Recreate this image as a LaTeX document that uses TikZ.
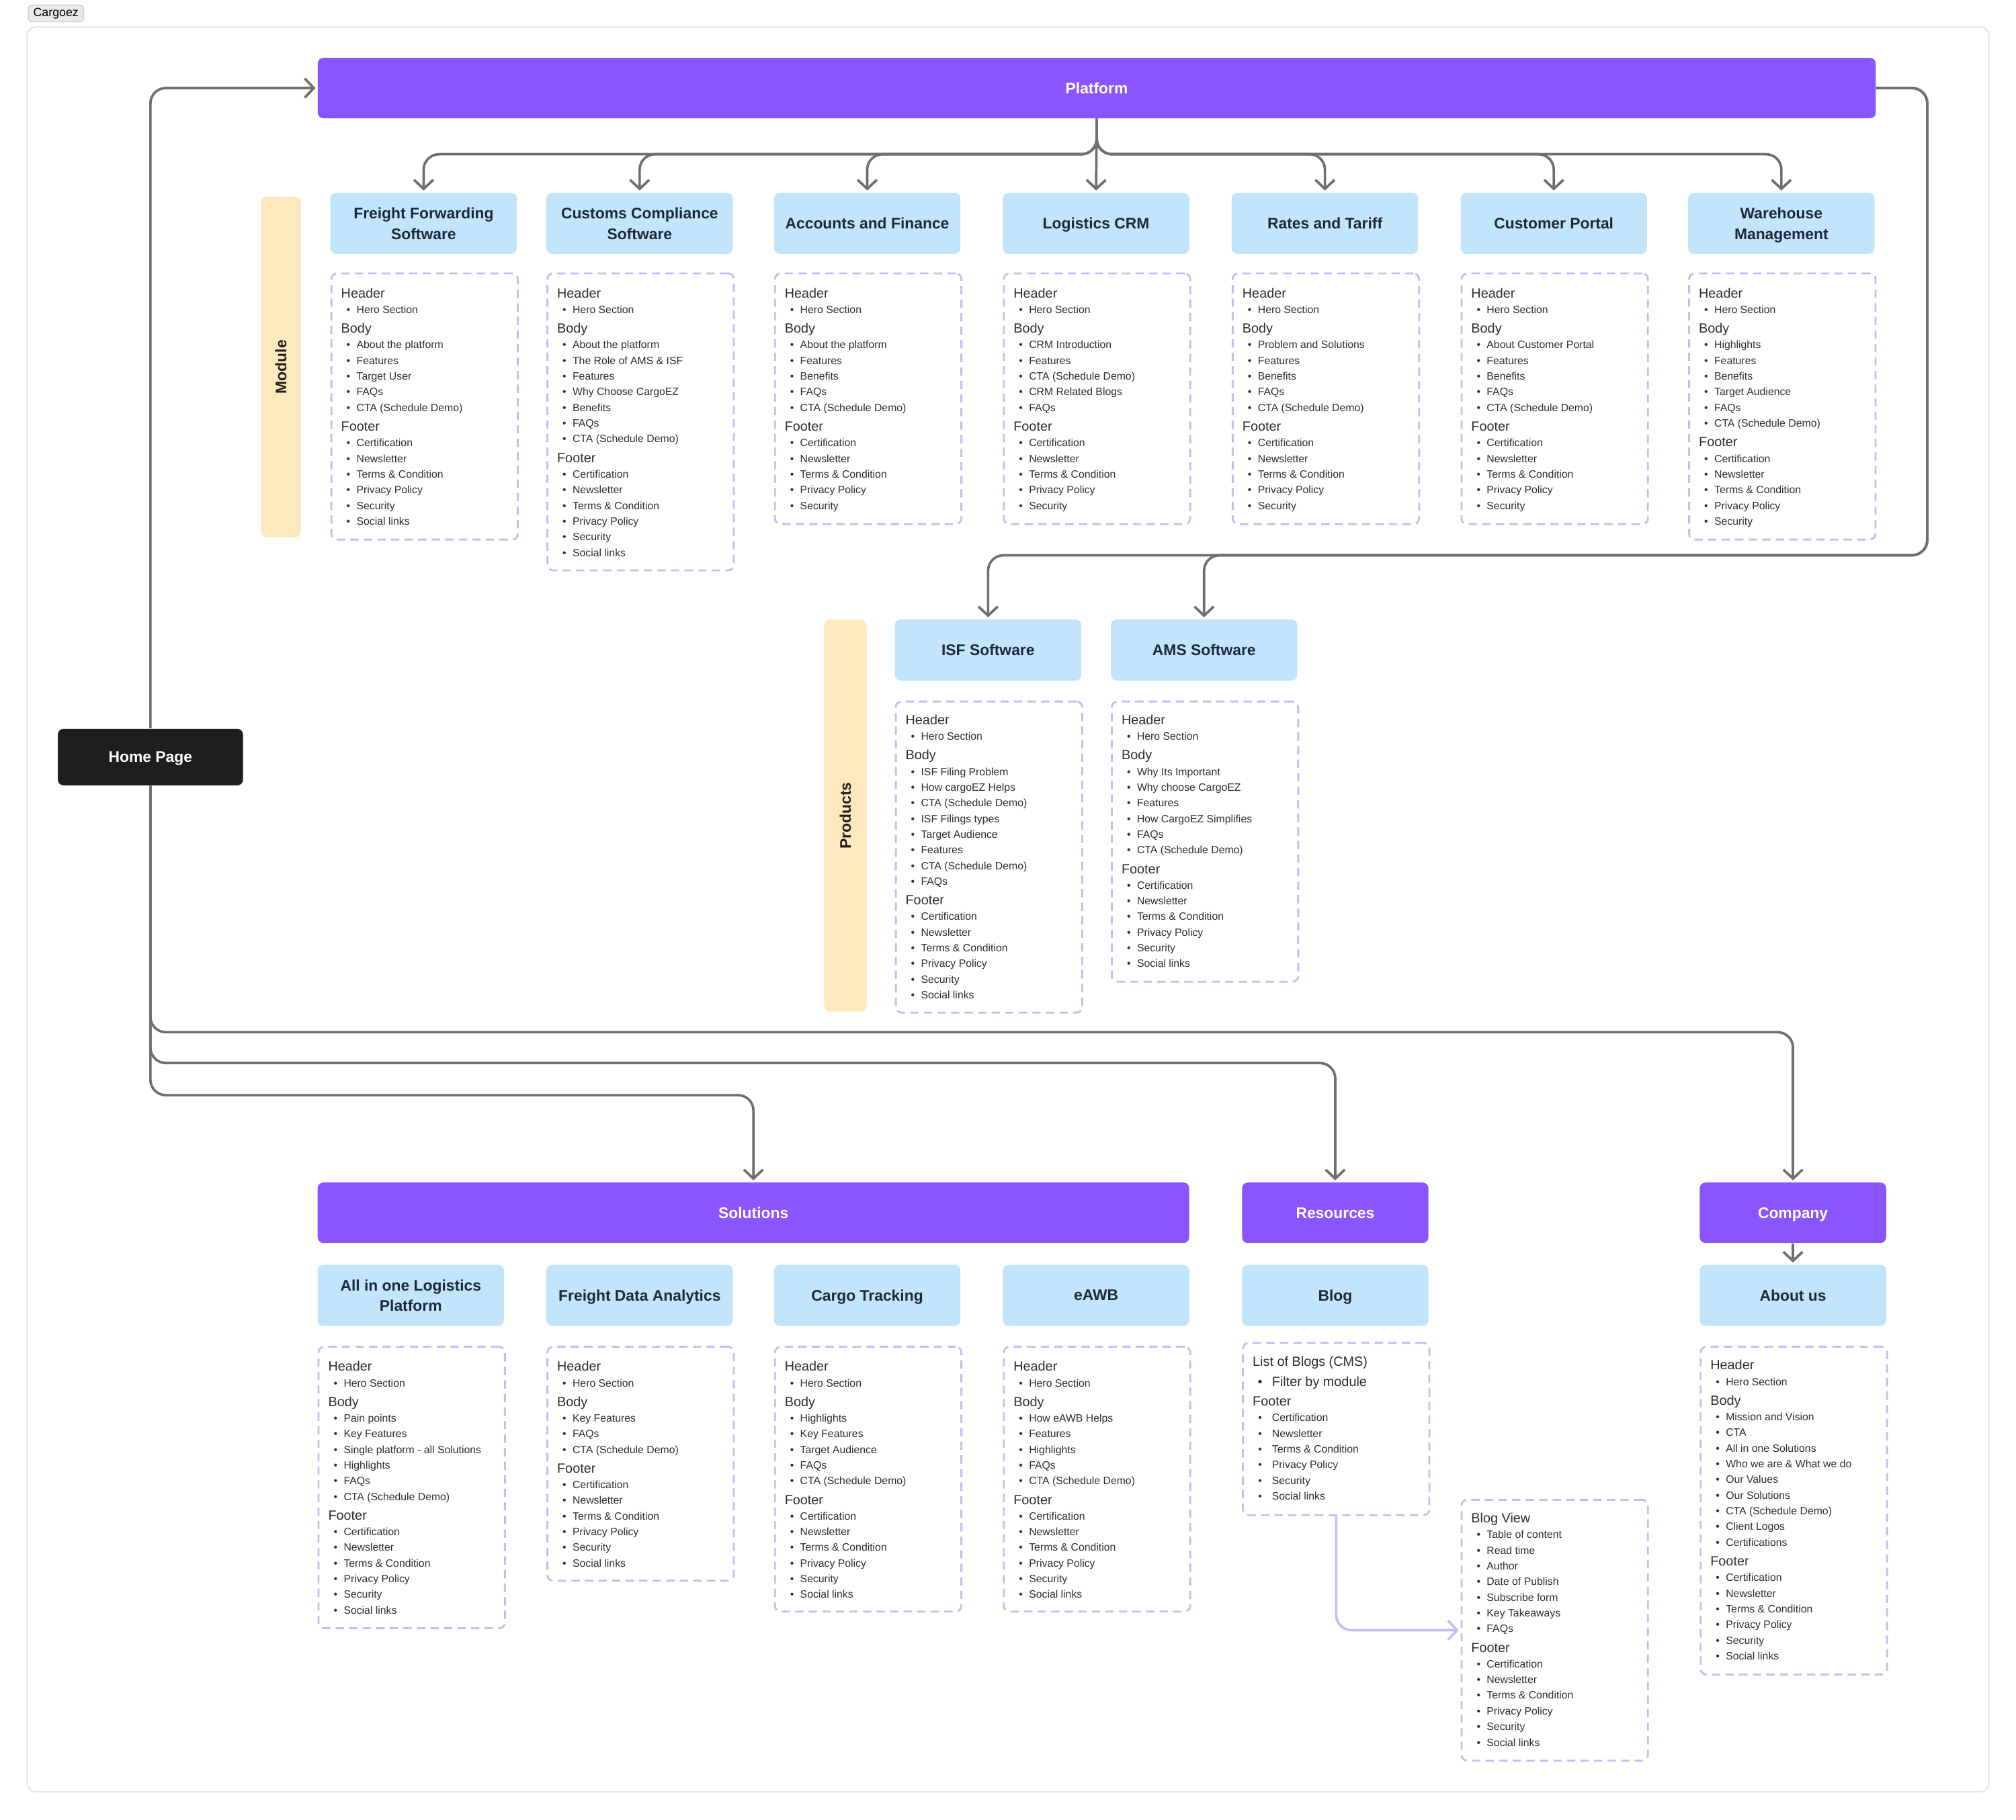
\documentclass[tikz,border=0pt]{standalone}
\usepackage{fontspec}
\setmainfont{Liberation Sans}
\usetikzlibrary{arrows.meta}
\definecolor{purp}{HTML}{8A55FE}
\definecolor{cardblue}{HTML}{C3E5FC}
\definecolor{navy}{HTML}{1D2939}
\definecolor{ylw}{HTML}{FDE9BB}
\definecolor{lav}{HTML}{C8BCF6}
\definecolor{lgray}{HTML}{6F6F6F}
\definecolor{txt}{HTML}{2E2E2E}
\definecolor{framec}{HTML}{DDE9F5}
\definecolor{homeblk}{HTML}{1E1E1E}
\definecolor{tagfill}{HTML}{E9E9E9}
\definecolor{tagdraw}{HTML}{CFCFCF}

\newcounter{tn}
\def\tx{20}
\def\incsh{0}\def\inchb{12.8}\def\incbb{12.2}\def\incbh{14.6}\def\inchB{16}\def\incBh{15}\def\incBb{12.8}

\tikzset{
  hd/.style={inner sep=0, text=txt, font=\fontsize{5.9pt}{7pt}\selectfont},
  bt/.style={inner sep=0, text=txt, font=\fontsize{4.7pt}{5.6pt}\selectfont},
  card/.style={fill=cardblue, rounded corners=2.5pt, minimum width=2.9cm, minimum height=0.95cm,
    inner sep=0, align=center, text=navy, font=\bfseries\fontsize{6.8pt}{9.1pt}\selectfont,
    text depth=0pt, execute at begin node=\vphantom{A}},
  bar/.style={fill=purp, rounded corners=2.5pt, minimum height=0.94cm, inner sep=0,
    text=white, font=\bfseries\fontsize{6.8pt}{8pt}\selectfont,
    text depth=0pt, execute at begin node=\vphantom{A}},
  homebox/.style={fill=homeblk, rounded corners=2.5pt, minimum width=2.88cm, minimum height=0.88cm,
    inner sep=0, text=white, font=\bfseries\fontsize{6.8pt}{8pt}\selectfont,
    text depth=0pt, execute at begin node=\vphantom{A}},
  strip/.style={fill=ylw, rounded corners=2.5pt, inner sep=0, text=black!88,
    font=\bfseries\fontsize{6.8pt}{8pt}\selectfont},
  cbox/.style={draw=lav, line width=0.85pt, dash pattern=on 3.7pt off 2.3pt, rounded corners=2.5pt,
    minimum width=2.9cm, inner sep=0},
  conn/.style={draw=lgray, line width=1.1pt, rounded corners=6.8pt, shorten >=0.8pt,
    -{Straight Barb[length=4pt,width=8.5pt]}},
  lconn/.style={conn, draw=lav},
  tagbox/.style={fill=tagfill, draw=tagdraw, line width=0.4pt, rounded corners=1.5pt,
    minimum width=0.86cm, minimum height=0.26cm, inner sep=0, font=\fontsize{5.3pt}{6pt}\selectfont},
}

\newcommand\drawh[3]{\stepcounter{tn}\node[hd,anchor=base west] (t\arabic{tn}) at ({#1+8},{#2+3.7}) {#3};}
\newcommand\drawb[3]{\stepcounter{tn}\node[bt,anchor=base] (u\arabic{tn}) at ({#1+14},{#2+3}) {\textbullet};%
  \node[bt,anchor=base west] (t\arabic{tn}) at ({#1+\tx},{#2+3}) {#3};}
\newcommand\drawB[3]{\stepcounter{tn}\node[hd,anchor=base] (u\arabic{tn}) at ({#1+14},{#2+3.7}) {\textbullet};%
  \node[hd,anchor=base west] (t\arabic{tn}) at ({#1+23},{#2+3.7}) {#3};}

\newcommand\plist[3]{%
  \xdef\mycy{#2}\xdef\mypt{s}%
  \foreach \k/\s in {#3}{%
    \edef\myinc{\csname inc\mypt\k\endcsname}%
    \pgfmathsetmacro\myny{\mycy+\myinc}%
    \xdef\mycy{\myny}\xdef\mypt{\k}%
    \csname draw\k\endcsname{#1}{\mycy}{\s}%
  }%
}
\newcommand\card[4]{\node[card] (#1) at ({#2+72.5},{#3+23.75}) {#4};}
\newcommand\cbox[4]{\pgfmathsetmacro\myhh{(#4-#3)*0.02}%
  \node[cbox, anchor=north west, minimum height=\myhh cm] (#1) at (#2,#3) {};}

\begin{document}
\begin{tikzpicture}[x=0.02cm,y=-0.02cm]
\useasboundingbox (0,0) rectangle (1568,1415.4);
\fill[white] (0,0) rectangle (1568,1415.4);
\draw[framec, line width=0.6pt, rounded corners=4pt] (21,21) rectangle (1547,1394);
\node[tagbox] (tag) at (43.5,10.5) {Cargoez};

% ---------- top level ----------
\node[bar, minimum width=24.24cm] (plat) at (853,68.5) {Platform};
\node[homebox] (home) at (117,589) {Home Page};

% ---------- modules ----------
\node[strip, rotate=90, minimum width=5.3cm, minimum height=0.62cm] (modl) at (218.5,285.5) {Module};
\card{ff}{257}{150}{Freight Forwarding\\Software}
\card{cc}{425}{150}{Customs Compliance\\Software}
\card{af}{602}{150}{Accounts and Finance}
\card{crm}{780}{150}{Logistics CRM}
\card{rt}{958}{150}{Rates and Tariff}
\card{cp}{1136}{150}{Customer Portal}
\card{wm}{1313}{150}{Warehouse\\Management}

\cbox{ffc}{257}{212}{419}
\cbox{ccc}{425}{212}{443}
\cbox{afc}{602}{212}{407}
\cbox{crmc}{780}{212}{407}
\cbox{rtc}{958}{212}{407}
\cbox{cpc}{1136}{212}{407}
\cbox{wmc}{1313}{212}{419}

\plist{257}{228}{h/Header,b/Hero Section,h/Body,b/About the platform,b/Features,b/Target User,b/FAQs,b/CTA (Schedule Demo),h/Footer,b/Certification,b/Newsletter,b/Terms \& Condition,b/Privacy Policy,b/Security,b/Social links}
\plist{425}{228}{h/Header,b/Hero Section,h/Body,b/About the platform,b/The Role of AMS \& ISF,b/Features,b/Why Choose CargoEZ,b/Benefits,b/FAQs,b/CTA (Schedule Demo),h/Footer,b/Certification,b/Newsletter,b/Terms \& Condition,b/Privacy Policy,b/Security,b/Social links}
\plist{602}{228}{h/Header,b/Hero Section,h/Body,b/About the platform,b/Features,b/Benefits,b/FAQs,b/CTA (Schedule Demo),h/Footer,b/Certification,b/Newsletter,b/Terms \& Condition,b/Privacy Policy,b/Security}
\plist{780}{228}{h/Header,b/Hero Section,h/Body,b/CRM Introduction,b/Features,b/CTA (Schedule Demo),b/CRM Related Blogs,b/FAQs,h/Footer,b/Certification,b/Newsletter,b/Terms \& Condition,b/Privacy Policy,b/Security}
\plist{958}{228}{h/Header,b/Hero Section,h/Body,b/Problem and Solutions,b/Features,b/Benefits,b/FAQs,b/CTA (Schedule Demo),h/Footer,b/Certification,b/Newsletter,b/Terms \& Condition,b/Privacy Policy,b/Security}
\plist{1136}{228}{h/Header,b/Hero Section,h/Body,b/About Customer Portal,b/Features,b/Benefits,b/FAQs,b/CTA (Schedule Demo),h/Footer,b/Certification,b/Newsletter,b/Terms \& Condition,b/Privacy Policy,b/Security}
\plist{1313}{228}{h/Header,b/Hero Section,h/Body,b/Highlights,b/Features,b/Benefits,b/Target Audience,b/FAQs,b/CTA (Schedule Demo),h/Footer,b/Certification,b/Newsletter,b/Terms \& Condition,b/Privacy Policy,b/Security}

% ---------- products ----------
\node[strip, rotate=90, minimum width=6.1cm, minimum height=0.66cm] (prodl) at (657.5,634.5) {Products};
\card{isf}{696}{482}{ISF Software}
\card{ams}{864}{482}{AMS Software}
\cbox{isfc}{696}{545}{787}
\cbox{amsc}{864}{545}{763}
\plist{696}{560}{h/Header,b/Hero Section,h/Body,b/ISF Filing Problem,b/How cargoEZ Helps,b/CTA (Schedule Demo),b/ISF Filings types,b/Target Audience,b/Features,b/CTA (Schedule Demo),b/FAQs,h/Footer,b/Certification,b/Newsletter,b/Terms \& Condition,b/Privacy Policy,b/Security,b/Social links}
\plist{864}{560}{h/Header,b/Hero Section,h/Body,b/Why Its Important,b/Why choose CargoEZ,b/Features,b/How CargoEZ Simplifies,b/FAQs,b/CTA (Schedule Demo),h/Footer,b/Certification,b/Newsletter,b/Terms \& Condition,b/Privacy Policy,b/Security,b/Social links}

% ---------- solutions / resources / company ----------
\node[bar, minimum width=13.56cm] (sol) at (586,943.5) {Solutions};
\node[bar, minimum width=2.9cm] (res) at (1038.5,943.5) {Resources};
\node[bar, minimum width=2.9cm] (comp) at (1394.5,943.5) {Company};

\card{aio}{247}{984}{All in one Logistics\\Platform}
\card{fda}{425}{984}{Freight Data Analytics}
\card{ct}{602}{984}{Cargo Tracking}
\card{eawb}{780}{984}{eAWB}
\card{blog}{966}{984}{Blog}
\card{about}{1322}{984}{About us}

\cbox{aioc}{247}{1047}{1266}
\cbox{fdac}{425}{1047}{1229}
\cbox{ctc}{602}{1047}{1253}
\cbox{eawbc}{780}{1047}{1253}
\cbox{blist}{966}{1044}{1178}
\cbox{bview}{1136}{1166}{1369}
\cbox{aboutc}{1322}{1047}{1302}

\plist{247}{1063}{h/Header,b/Hero Section,h/Body,b/Pain points,b/Key Features,b/Single platform - all Solutions,b/Highlights,b/FAQs,b/CTA (Schedule Demo),h/Footer,b/Certification,b/Newsletter,b/Terms \& Condition,b/Privacy Policy,b/Security,b/Social links}
\plist{425}{1063}{h/Header,b/Hero Section,h/Body,b/Key Features,b/FAQs,b/CTA (Schedule Demo),h/Footer,b/Certification,b/Newsletter,b/Terms \& Condition,b/Privacy Policy,b/Security,b/Social links}
\plist{602}{1063}{h/Header,b/Hero Section,h/Body,b/Highlights,b/Key Features,b/Target Audience,b/FAQs,b/CTA (Schedule Demo),h/Footer,b/Certification,b/Newsletter,b/Terms \& Condition,b/Privacy Policy,b/Security,b/Social links}
\plist{780}{1063}{h/Header,b/Hero Section,h/Body,b/How eAWB Helps,b/Features,b/Highlights,b/FAQs,b/CTA (Schedule Demo),h/Footer,b/Certification,b/Newsletter,b/Terms \& Condition,b/Privacy Policy,b/Security,b/Social links}
\def\tx{23}
\plist{966}{1059}{h/List of Blogs (CMS),B/Filter by module,h/Footer,b/Certification,b/Newsletter,b/Terms \& Condition,b/Privacy Policy,b/Security,b/Social links}
\def\tx{20}
\plist{1136}{1181}{h/Blog View,b/Table of content,b/Read time,b/Author,b/Date of Publish,b/Subscribe form,b/Key Takeaways,b/FAQs,h/Footer,b/Certification,b/Newsletter,b/Terms \& Condition,b/Privacy Policy,b/Security,b/Social links}
\plist{1322}{1062}{h/Header,b/Hero Section,h/Body,b/Mission and Vision,b/CTA,b/All in one Solutions,b/Who we are \& What we do,b/Our Values,b/Our Solutions,b/CTA (Schedule Demo),b/Client Logos,b/Certifications,h/Footer,b/Certification,b/Newsletter,b/Terms \& Condition,b/Privacy Policy,b/Security,b/Social links}

% ---------- connectors ----------
\coordinate (pj) at (853,120);
\foreach \n in {ff,cc,af,rt,cp,wm} {\draw[conn] (plat.south) -- (pj) -| (\n.north);}
\draw[conn] (plat.south) -- (crm.north);

\coordinate (r1) at (1499,68.5);
\coordinate (r2) at (1499,432);
\draw[conn] (plat.east) -- (r1) -- (r2) -| (isf.north);
\draw[conn] (plat.east) -- (r1) -- (r2) -| (ams.north);

\draw[conn] (home.north) |- (plat.west);
\coordinate (h1) at (117,803);
\coordinate (h2) at (117,827);
\coordinate (h3) at (117,852);
\draw[conn] (home.south) -- (h1) -| (comp.north);
\draw[conn] (home.south) -- (h2) -| (res.north);
\draw[conn] (home.south) -- (h3) -| (sol.north);

\draw[conn] (comp.south) -- (about.north);
\draw[lconn] (blist.south) |- (bview.west);
\end{tikzpicture}
\end{document}
